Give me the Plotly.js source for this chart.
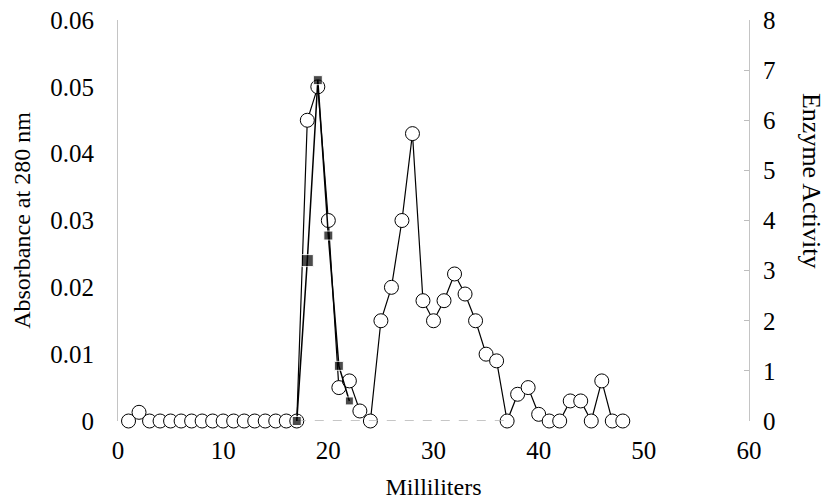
<!DOCTYPE html>
<html>
<head>
<meta charset="utf-8">
<script src="https://cdn.plot.ly/plotly-3.0.1.min.js"></script>
<style>
  html, body { margin: 0; padding: 0; background: #fff; }
  #chart { width: 825px; height: 503px; }
</style>
</head>
<body>
<div id="chart"></div>
<script>
// Fraction volume (mL) for the absorbance readings
const milliliters = [1, 2, 3, 4, 5, 6, 7, 8, 9, 10, 11, 12, 13, 14, 15, 16, 17,
  18, 19, 20, 21, 22, 23, 24, 25, 26, 27, 28, 29, 30, 31, 32, 33, 34, 35, 36, 37,
  38, 39, 40, 41, 42, 43, 44, 45, 46, 47, 48];
// Absorbance at 280 nm (open circles, left axis)
const absorbance = [0, 0.0013, 0, 0, 0, 0, 0, 0, 0, 0, 0, 0, 0, 0, 0, 0, 0,
  0.045, 0.050, 0.030, 0.005, 0.006, 0.0015, 0, 0.015, 0.020, 0.030, 0.043,
  0.018, 0.015, 0.018, 0.022, 0.019, 0.015, 0.010, 0.009, 0, 0.004, 0.005,
  0.001, 0, 0, 0.003, 0.003, 0, 0.006, 0, 0];
// Enzyme activity (filled squares, right axis)
const enzymeMl = [17, 18, 19, 20, 21, 22];
const enzymeActivity = [0, 3.2, 6.8, 3.7, 1.1, 0.4];
// Zero-activity baseline (grey line)
const baselineMl = [17, 37];
const baselineActivity = [0, 0];
// Tick labels
const xTicks = [0, 10, 20, 30, 40, 50, 60];
const yTicks = [0, 0.01, 0.02, 0.03, 0.04, 0.05, 0.06];
const y2Ticks = [0, 1, 2, 3, 4, 5, 6, 7, 8];

const serif = 'Liberation Serif, Times New Roman, serif';

const traces = [
  {
    x: baselineMl, y: baselineActivity, yaxis: 'y2', type: 'scatter', mode: 'lines',
    line: { color: '#b4b4b4', width: 1.5, dash: 'dash' },
    hoverinfo: 'skip', showlegend: false, cliponaxis: false
  },
  {
    x: milliliters, y: absorbance, type: 'scatter', mode: 'lines+markers',
    name: 'Absorbance at 280 nm',
    line: { color: '#000', width: 1.2 },
    marker: { symbol: 'circle', size: 14, color: '#fff', line: { color: '#000', width: 1 } },
    cliponaxis: false, showlegend: false
  },
  {
    x: enzymeMl, y: enzymeActivity, yaxis: 'y2', type: 'scatter', mode: 'lines+markers',
    name: 'Enzyme Activity',
    line: { color: '#000', width: 1.5 },
    marker: { symbol: 'square', size: [9, 12, 9, 9, 9, 8], color: '#000' },
    cliponaxis: false, showlegend: false
  }
];

const layout = {
  width: 825, height: 503,
  margin: { l: 118, r: 76, t: 20, b: 82, pad: 0 },
  paper_bgcolor: '#fff', plot_bgcolor: '#fff',
  font: { family: serif, color: '#000', size: 25 },
  showlegend: false,
  xaxis: {
    range: [0, 60], tickvals: xTicks, ticktext: xTicks.map(String),
    showgrid: false, zeroline: false, showline: false, ticks: '',
    ticklabelstandoff: 12,
    tickfont: { family: serif, size: 25, color: '#000' },
    title: { text: 'Milliliters', font: { family: serif, size: 24, color: '#000' }, standoff: 15 },
    automargin: false
  },
  yaxis: {
    range: [0, 0.06], tickvals: yTicks, ticktext: yTicks.map(String),
    showgrid: false, zeroline: false, showline: true, linecolor: '#c4c4c4', linewidth: 1,
    ticks: '', ticklabelstandoff: 18,
    tickfont: { family: serif, size: 25, color: '#000' },
    title: { text: 'Absorbance at 280 nm', font: { family: serif, size: 24, color: '#000' }, standoff: 12 },
    automargin: false
  },
  yaxis2: {
    overlaying: 'y', side: 'right', anchor: 'x',
    range: [0, 8], tickvals: y2Ticks, ticktext: y2Ticks.map(String),
    showgrid: false, zeroline: false, showline: true, linecolor: '#c4c4c4', linewidth: 1,
    ticks: 'inside', ticklen: 5, tickcolor: '#bdbdbd', tickwidth: 1,
    ticklabelstandoff: 8,
    tickfont: { family: serif, size: 25, color: '#000' },
    automargin: false
  },
  annotations: [
    {
      text: 'Enzyme Activity', xref: 'paper', yref: 'paper',
      x: 1.0983, y: 0.601, xanchor: 'center', yanchor: 'middle',
      textangle: 90, showarrow: false,
      font: { family: serif, size: 26, color: '#000' }
    }
  ]
};

Plotly.newPlot('chart', traces, layout, { displayModeBar: false, staticPlot: true });
</script>
</body>
</html>
